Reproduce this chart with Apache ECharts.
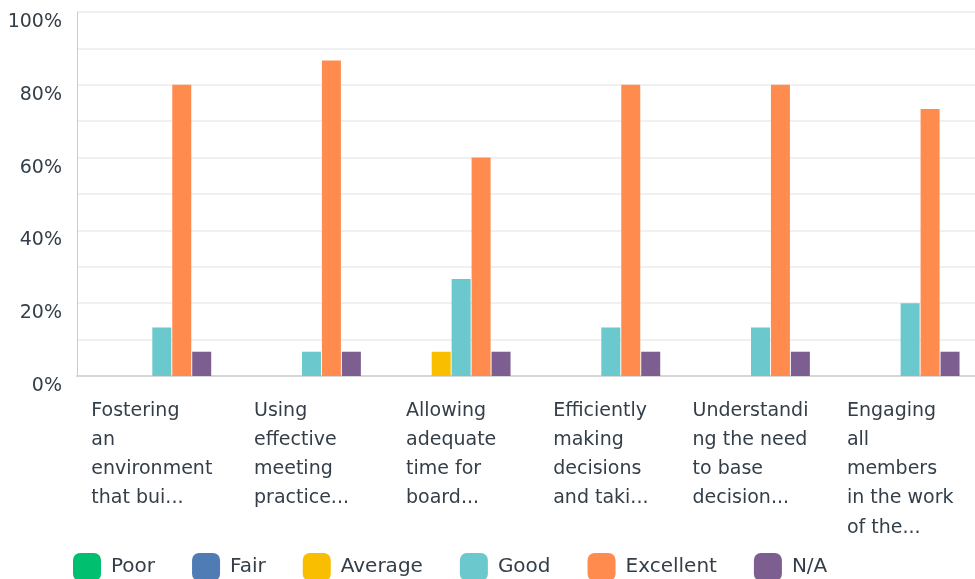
<!DOCTYPE html>
<html>
<head>
<meta charset="utf-8">
<title>Board ratings</title>
<script src="https://cdn.jsdelivr.net/npm/echarts@6/dist/echarts.min.js"></script>
<style>
  html, body { margin: 0; padding: 0; background: #fff; }
  #chart { width: 975px; height: 579px; }
</style>
</head>
<body>
<div id="chart"></div>
<script>
// categories as shown on the axis (already truncated in the picture)
var categories = [
  "Fostering\nan\nenvironment\nthat bui...",
  "Using\neffective\nmeeting\npractice...",
  "Allowing\nadequate\ntime for\nboard...",
  "Efficiently\nmaking\ndecisions\nand taki...",
  "Understandi\nng the need\nto base\ndecision...",
  "Engaging\nall\nmembers\nin the work\nof the..."
];
var seriesNames = ["Poor", "Fair", "Average", "Good", "Excellent", "N/A"];
var seriesColors = ["#00bf6f", "#507cb6", "#f9be00", "#6bc8cd", "#ff8b4f", "#7d5e90"];

// percent of respondents
var poor      = [0, 0, 0, 0, 0, 0];
var fair      = [0, 0, 0, 0, 0, 0];
var average   = [0, 0, 6.67, 0, 0, 0];
var good      = [13.33, 6.67, 26.67, 13.33, 13.33, 20];
var excellent = [80, 86.67, 60, 80, 80, 73.33];
var na        = [6.67, 6.67, 6.67, 6.67, 6.67, 6.67];
var seriesData = [poor, fair, average, good, excellent, na];

var textColor = "#333e48";
var fontName = "DejaVu Sans";

var chart = echarts.init(document.getElementById("chart"));

var series = seriesNames.map(function (name, i) {
  return {
    name: name,
    type: "bar",
    data: seriesData[i],
    barWidth: 19,
    barGap: "5%",
    itemStyle: { color: seriesColors[i] }
  };
});

var option = {
  animation: false,
  textStyle: { fontFamily: fontName },
  grid: { left: 77, top: 12, width: 906, height: 364, containLabel: false },
  legend: {
    left: 73,
    top: 553,
    padding: 0,
    icon: "roundRect",
    itemWidth: 28,
    itemHeight: 28,
    itemGap: 37,
    selectedMode: false,
    data: seriesNames,
    textStyle: {
      color: textColor,
      fontSize: 20,
      fontFamily: fontName,
      padding: [3, 0, 0, 5]
    }
  },
  xAxis: {
    type: "category",
    data: categories,
    axisTick: { show: false },
    axisLine: { lineStyle: { color: "#d6d6d6", width: 2 } },
    axisLabel: {
      interval: 0,
      margin: 20,
      align: "center",
      verticalAlign: "top",
      formatter: function (v) {
        // lines left-aligned inside a centred block
        return v.split("\n").map(function (l) { return "{a|" + l + "}"; }).join("\n");
      },
      rich: {
        a: {
          align: "left",
          fontSize: 19,
          lineHeight: 29.3,
          color: textColor,
          fontFamily: fontName
        }
      }
    }
  },
  yAxis: {
    type: "value",
    min: 0,
    max: 100,
    interval: 10,
    axisTick: { show: false },
    axisLine: { show: true, lineStyle: { color: "#cccccc", width: 1 } },
    splitLine: { lineStyle: { color: "#ebebeb", width: 1.5 } },
    axisLabel: {
      margin: 15,
      fontSize: 19,
      color: textColor,
      fontFamily: fontName,
      verticalAlign: "top",
      lineHeight: 20,
      formatter: function (v) {
        return v % 20 === 0 ? v + "%" : "";
      }
    }
  },
  series: series
};

chart.setOption(option);
</script>
</body>
</html>
